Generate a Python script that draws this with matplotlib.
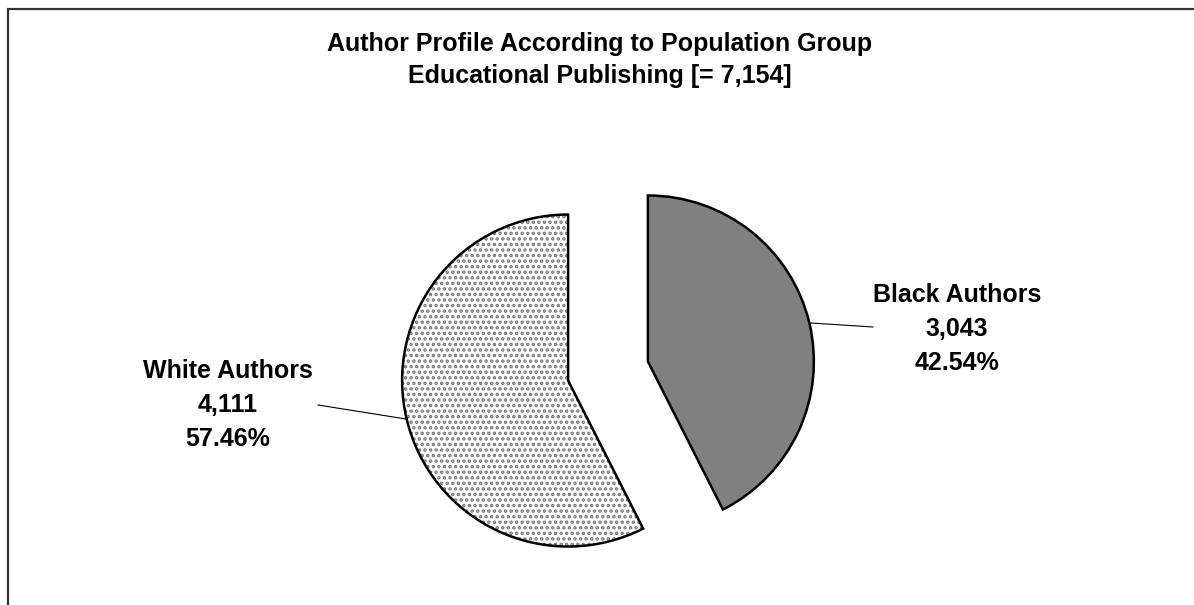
import numpy as np
import matplotlib.pyplot as plt
from matplotlib.patches import Wedge

plt.rcParams['font.family'] = ['Liberation Sans', 'DejaVu Sans']
plt.rcParams['hatch.linewidth'] = 1.7

groups = ['Black Authors', 'White Authors']
counts = [3043, 4111]
shares = ['42.54%', '57.46%']
title = 'Author Profile According to Population Group\nEducational Publishing [= 7,154]'

W, H = 1194, 605
fig = plt.figure(figsize=(W / 100, H / 100), dpi=100)
ax = fig.add_axes([0, 0, 1, 1])

# pie in pixel-like units (y measured upward)
cx, cy, r = 608, H - 371, 166
wedges, _ = ax.pie(counts, center=(cx, cy), radius=r, startangle=90,
                   counterclock=False, explode=[41, 41],
                   colors=['#808080', 'white'],
                   wedgeprops=dict(edgecolor='black', linewidth=1.8),
                   frame=True)
ax.set_xlim(0, W)
ax.set_ylim(0, H)
ax.set_aspect('equal')
ax.axis('off')

# dotted fill for the white slice
w = wedges[1]
dots = Wedge(w.center, w.r, w.theta1, w.theta2, facecolor='white',
             edgecolor='#7c7c7c', hatch='...', linewidth=0, zorder=w.zorder - 0.1)
ax.add_patch(dots)
w.set_facecolor('none')

# labels with leader lines
label_pos = [(957, H - 329), (228, H - 405)]
line_end = [(873, H - 327), (318, H - 405)]
for wd, g, c, s, (tx, ty), (ex, ey) in zip(wedges, groups, counts, shares, label_pos, line_end):
    mid = np.deg2rad((wd.theta1 + wd.theta2) / 2)
    sx = wd.center[0] + wd.r * np.cos(mid)
    sy = wd.center[1] + wd.r * np.sin(mid)
    ax.plot([sx, ex], [sy, ey], color='black', linewidth=0.8)
    ax.text(tx, ty, f'{g}\n{c:,}\n{s}', ha='center', va='center',
            fontsize=18, fontweight='bold', linespacing=1.5)

fig.text(600 / W, 1 - 60 / H, title, ha='center', va='center',
         fontsize=18, fontweight='bold', linespacing=1.45)

# chart frame (left and top edges visible)
ax.plot([8, 8, W], [0, H - 9, H - 9], color='#333333', linewidth=1.6,
        solid_joinstyle='miter', clip_on=False)

fig.savefig('out.png', dpi=100)
